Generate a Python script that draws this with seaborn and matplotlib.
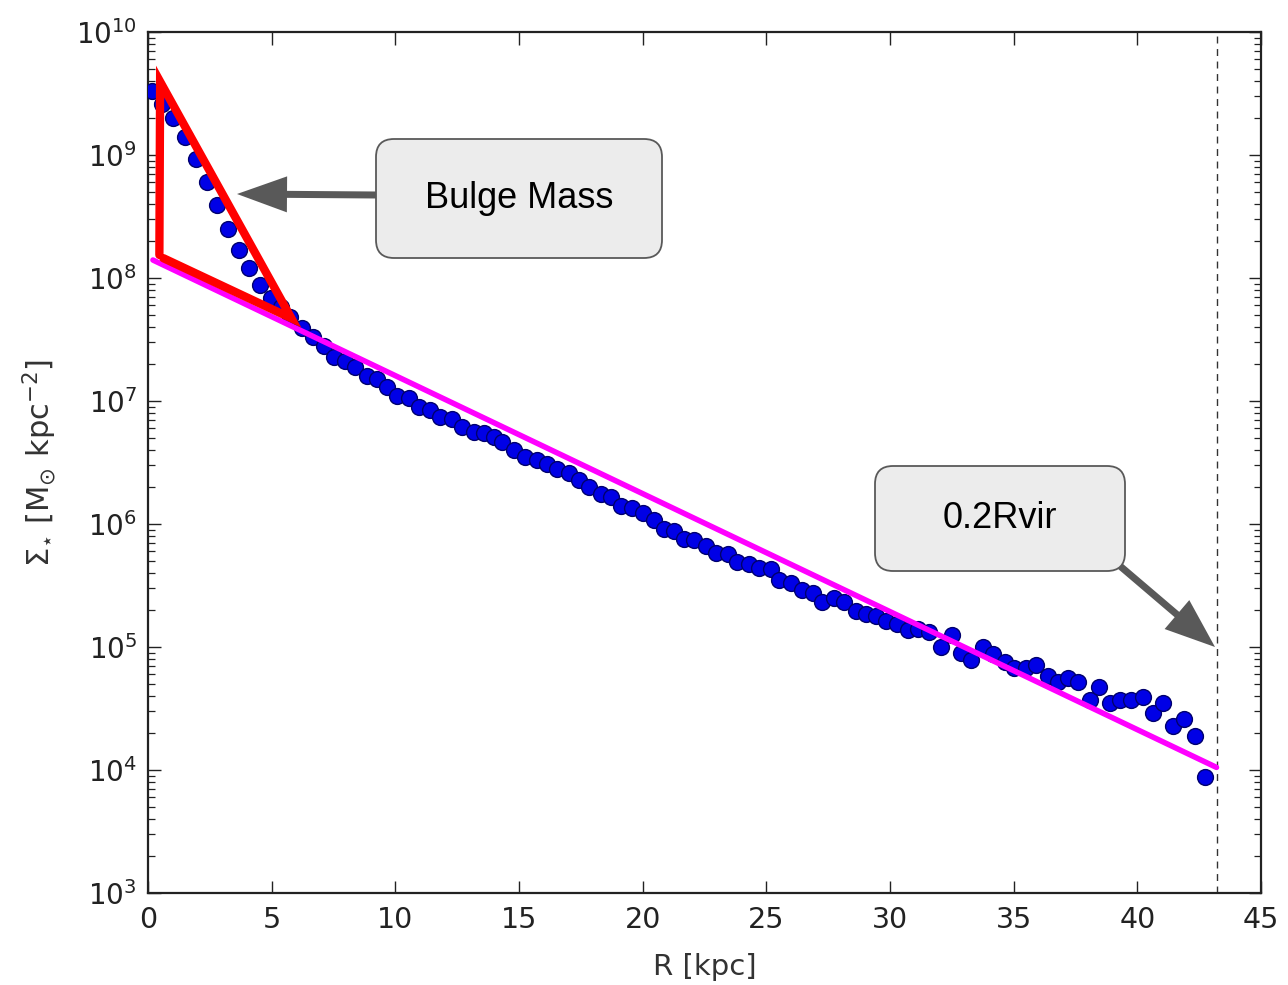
import numpy as np
import pandas as pd
import matplotlib
matplotlib.use("Agg")
import matplotlib.pyplot as plt
import seaborn as sns
from matplotlib.patches import FancyBboxPatch, FancyArrowPatch, ArrowStyle
from matplotlib.transforms import IdentityTransform
from matplotlib.ticker import LogLocator, NullFormatter

# ---------------- data ----------------
radius_kpc = [
    0.15, 0.58, 1.02, 1.50, 1.94, 2.37, 2.80, 3.25, 3.68, 4.10, 4.53, 4.97, 5.37,
    5.75, 6.22, 6.69, 7.10, 7.50, 7.98, 8.38, 8.85, 9.26, 9.66, 10.07, 10.54,
    10.95, 11.42, 11.82, 12.30, 12.70, 13.17, 13.58, 13.98, 14.32, 14.79, 15.26,
    15.74, 16.14, 16.55, 17.02, 17.42, 17.83, 18.30, 18.70, 19.11, 19.58, 20.02,
    20.46, 20.86, 21.27, 21.67, 22.08, 22.55, 22.96, 23.43, 23.83, 24.30, 24.71,
    25.18, 25.52, 26.00, 26.46, 26.87, 27.27, 27.75, 28.15, 28.62, 29.03, 29.43,
    29.84, 30.30, 30.72, 31.12, 31.59, 32.06, 32.50, 32.87, 33.28, 33.75, 34.16,
    34.63, 35.03, 35.50, 35.90, 36.38, 36.79, 37.19, 37.60, 38.07, 38.47, 38.88,
    39.28, 39.76, 40.23, 40.64, 41.04, 41.45, 41.90, 42.32, 42.75,
]
sigma_star = [
    3.3e9, 2.6e9, 2.0e9, 1.4e9, 9.3e8, 6.0e8, 3.9e8, 2.5e8, 1.7e8, 1.2e8, 8.7e7, 6.9e7, 5.8e7,
    4.8e7, 3.9e7, 3.3e7, 2.8e7, 2.3e7, 2.1e7, 1.9e7, 1.6e7, 1.5e7, 1.3e7, 1.1e7, 1.05e7,
    8.9e6, 8.5e6, 7.4e6, 7.1e6, 6.2e6, 5.6e6, 5.5e6, 5.1e6, 4.6e6, 4.0e6, 3.5e6,
    3.3e6, 3.1e6, 2.8e6, 2.6e6, 2.3e6, 2.0e6, 1.74e6, 1.66e6, 1.4e6, 1.35e6, 1.23e6,
    1.07e6, 9.1e5, 8.7e5, 7.6e5, 7.4e5, 6.6e5, 5.8e5, 5.7e5, 4.9e5, 4.7e5, 4.4e5,
    4.3e5, 3.5e5, 3.3e5, 2.9e5, 2.75e5, 2.34e5, 2.5e5, 2.34e5, 1.95e5, 1.86e5, 1.78e5,
    1.62e5, 1.55e5, 1.38e5, 1.41e5, 1.32e5, 1.0e5, 1.26e5, 8.9e4, 7.8e4, 1.0e5, 8.7e4,
    7.6e4, 6.8e4, 6.8e4, 7.1e4, 5.8e4, 5.2e4, 5.6e4, 5.2e4, 3.7e4, 4.7e4, 3.5e4,
    3.7e4, 3.7e4, 3.9e4, 2.9e4, 3.5e4, 2.3e4, 2.6e4, 1.9e4, 8.7e3,
]

# exponential-disk fit (magenta), end points
fit_radius = [0.2, 43.2]
fit_sigma = [1.4e8, 1.05e4]

# hand-drawn bulge triangle (red)
bulge_radius = [0.62, 5.80, 0.49, 0.46]
bulge_sigma = [1.45e8, 4.7e7, 3.95e9, 1.54e8]

r_02_rvir = 43.24

x_ticks = [0, 5, 10, 15, 20, 25, 30, 35, 40, 45]

df = pd.DataFrame({"R": radius_kpc, "Sigma": sigma_star})
fit_df = pd.DataFrame({"R": fit_radius, "Sigma": fit_sigma})
tri_df = pd.DataFrame({"R": bulge_radius, "Sigma": bulge_sigma})

# ---------------- style ----------------
sns.set_style("ticks", {"xtick.direction": "in", "ytick.direction": "in",
                        "axes.edgecolor": "#222222"})
plt.rcParams["font.family"] = ["DejaVu Sans"]
plt.rcParams["xtick.top"] = True
plt.rcParams["ytick.right"] = True

W, H = 1288, 985
fig = plt.figure(figsize=(W / 100, H / 100), dpi=100)
ax = fig.add_axes([148 / W, 1 - 893 / H, (1261 - 148) / W, (893 - 32) / H])

sns.scatterplot(data=df, x="R", y="Sigma", ax=ax, s=130, color="#0000e6",
                edgecolor="#00006e", linewidth=1.0, zorder=3, legend=False)
sns.lineplot(data=fit_df, x="R", y="Sigma", ax=ax, color="#ff00ff", lw=4.0,
             zorder=4, sort=False, estimator=None)
sns.lineplot(data=tri_df, x="R", y="Sigma", ax=ax, color="#ff0000", lw=6.0,
             zorder=5, sort=False, estimator=None)
ax.lines[-1].set_solid_joinstyle("miter")
ax.axvline(r_02_rvir, color="#333333", ls=(0, (5, 4)), lw=1.0, zorder=2)

ax.set_yscale("log")
ax.set_xlim(0, 45)
ax.set_ylim(1e3, 1e10)
ax.set_xticks(x_ticks)
ax.yaxis.set_major_locator(LogLocator(base=10, numticks=20))
ax.yaxis.set_minor_locator(LogLocator(base=10, subs=np.arange(2, 10), numticks=100))
ax.yaxis.set_minor_formatter(NullFormatter())

ax.tick_params(axis="both", which="major", length=9, width=1.0, color="#222222")
ax.tick_params(axis="both", which="minor", length=5, width=0.9, color="#222222")
ax.tick_params(axis="x", labelsize=20.5, labelcolor="#222222", pad=9)
ax.tick_params(axis="y", labelsize=20, labelcolor="#222222", pad=8)
for sp in ax.spines.values():
    sp.set_linewidth(1.6)

ax.set_xlabel("R [kpc]", fontsize=21, color="#333333", labelpad=14)
ax.set_ylabel(r"$\Sigma_{\star}$ [M$_{\odot}$ kpc$^{-2}$]", fontsize=22,
              color="#333333", labelpad=12)

# ---------------- annotations (pixel layout) ----------------
def P(x, y):
    return (x, H - y)

def add_box(x0, y0, x1, y1, text):
    box = FancyBboxPatch(P(x0, y1), x1 - x0, y1 - y0,
                         boxstyle="round,pad=0,rounding_size=18",
                         transform=IdentityTransform(), fc="#ececec",
                         ec="#595959", lw=1.3, zorder=10, clip_on=False)
    fig.add_artist(box)
    fig.text((x0 + x1) / 2 / W, 1 - (y0 + y1) / 2 / H, text, ha="center",
             va="center", fontsize=26, family=["Liberation Sans", "DejaVu Sans"],
             color="black", zorder=11)

def add_arrow(start, end, hl, hw, tw):
    st = ArrowStyle("simple", head_length=hl * 0.72, head_width=hw * 0.72,
                    tail_width=tw * 0.72)
    arr = FancyArrowPatch(P(*start), P(*end), arrowstyle=st, mutation_scale=1,
                          transform=IdentityTransform(), fc="#595959",
                          ec="#595959", lw=0, zorder=9, shrinkA=0, shrinkB=0)
    fig.add_artist(arr)

add_box(376, 139, 662, 258, "Bulge Mass")
add_arrow((377, 195), (237, 194), 50, 36, 7)
add_box(875, 466, 1125, 571, "0.2Rvir")
add_arrow((1120, 566), (1215, 647), 50, 38, 7)

fig.savefig("out.png", dpi=100)
